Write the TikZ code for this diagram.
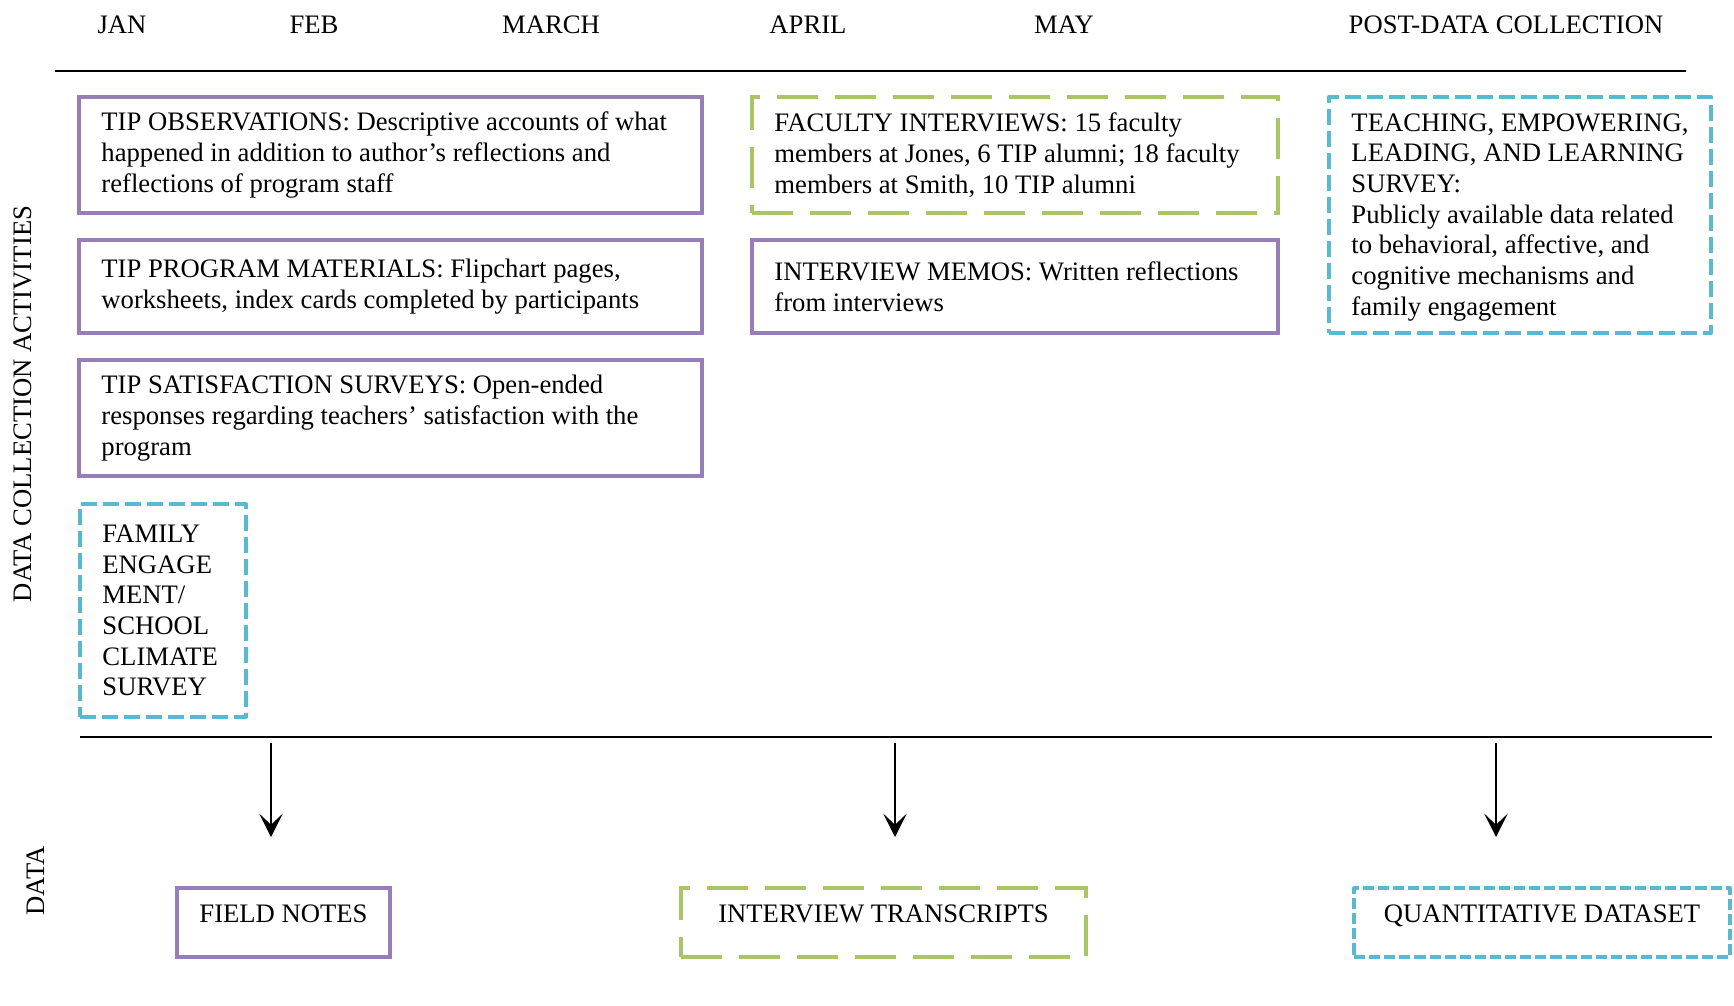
\documentclass[tikz,border=0pt]{standalone}
\usepackage{fontspec}
\setmainfont{Liberation Serif}
\usetikzlibrary{arrows.meta,calc}
\definecolor{purp}{RGB}{152,126,182}
\definecolor{grn}{RGB}{170,196,104}
\definecolor{cyn}{RGB}{88,185,208}
\begin{document}
\begin{tikzpicture}[x=0.45pt,y=-0.45pt,
  every node/.style={font=\fontsize{12}{13.8}\selectfont},
  box/.style={rectangle, inner sep=0pt, outer sep=0pt, anchor=north west, line width=1.8pt},
  pbox/.style={box, draw=purp},
  gbox/.style={box, draw=grn, dash pattern=on 18.5pt off 7.6pt},
  cbox/.style={box, draw=cyn, dash pattern=on 7.2pt off 2.7pt, line join=round},
  qbox/.style={box, draw=cyn, dash pattern=on 5pt off 1.8pt, line join=round},
  txt/.style={inner sep=0pt, align=left, anchor=west},
  ctxt/.style={inner sep=0pt, anchor=base},
  month/.style={inner sep=0pt, anchor=base},
  rule/.style={line width=1.2pt},
  arr/.style={line width=0.9pt, -{Stealth[length=10.5pt,width=10.5pt,inset=5pt]}}
]
\useasboundingbox (0,0) rectangle (1734,1005);

% month labels
\node[month] (jan) at (122,33) {JAN};
\node[month] (feb) at (314,33) {FEB};
\node[month] (mar) at (551,33) {MARCH};
\node[month] (apr) at (808,33) {APRIL};
\node[month] (may) at (1064,33) {MAY};
\node[month] (post) at (1506,33) {POST-DATA COLLECTION};

% side labels
\node[month, rotate=90] (lab1) at (32,404) {DATA COLLECTION ACTIVITIES};
\node[month, rotate=90] (lab2) at (45,881) {DATA};

% rules
\coordinate (tl1) at (55,71);
\coordinate (tl2) at (1686,71);
\draw[rule] (tl1) -- (tl2);
\coordinate (bl1) at (80,737);
\coordinate (bl2) at (1712,737);
\draw[rule] (bl1) -- (bl2);

% boxes
\node[pbox, minimum width=280.35pt, minimum height=52.2pt] (obs) at (79,97) {};
\node[txt] (obs-t) at ([xshift=9.9pt]obs.west) {TIP OBSERVATIONS: Descriptive accounts of what\\happened in addition to author’s reflections and\\reflections of program staff};

\node[pbox, minimum width=280.35pt, minimum height=41.85pt] (mat) at (79,240) {};
\node[txt] (mat-t) at ([xshift=9.9pt]mat.west) {TIP PROGRAM MATERIALS: Flipchart pages,\\worksheets, index cards completed by participants};

\node[pbox, minimum width=280.35pt, minimum height=52.2pt] (sat) at (79,360) {};
\node[txt] (sat-t) at ([xshift=9.9pt]sat.west) {TIP SATISFACTION SURVEYS: Open-ended\\responses regarding teachers’ satisfaction with the\\program};

\node[cbox, minimum width=74.7pt, minimum height=95.85pt] (fam) at (80,504) {};
\node[txt] (fam-t) at ([xshift=9.9pt]fam.west) {FAMILY\\ENGAGE\\MENT/\\SCHOOL\\CLIMATE\\SURVEY};

\node[gbox, minimum width=236.7pt, minimum height=52.2pt] (fac) at (752,97) {};
\node[txt] (fac-t) at ([xshift=9.9pt]fac.west) {FACULTY INTERVIEWS: 15 faculty\\members at Jones, 6 TIP alumni; 18 faculty\\members at Smith, 10 TIP alumni};

\node[pbox, minimum width=236.7pt, minimum height=41.85pt] (memo) at (752,240) {};
\node[txt] (memo-t) at ([xshift=9.9pt]memo.west) {INTERVIEW MEMOS: Written reflections\\from interviews};

\node[cbox, minimum width=171.9pt, minimum height=106.2pt] (tell) at (1329,97) {};
\node[txt] (tell-t) at ([xshift=9.9pt,yshift=-1pt]tell.west) {TEACHING, EMPOWERING,\\LEADING, AND LEARNING\\SURVEY:\\Publicly available data related\\to behavioral, affective, and\\cognitive mechanisms and\\family engagement};

% data boxes
\node[pbox, minimum width=95.85pt, minimum height=31.05pt] (fn) at (177,888) {};
\node[ctxt] (fn-t) at (fn.center) {FIELD NOTES};
\node[gbox, minimum width=182.25pt, minimum height=31.05pt] (it) at (681,888) {};
\node[ctxt] (it-t) at (it.center) {INTERVIEW TRANSCRIPTS};
\node[qbox, minimum width=169.2pt, minimum height=31.05pt] (qd) at (1354,888) {};
\node[ctxt] (qd-t) at (qd.center) {QUANTITATIVE DATASET};

% arrows
\coordinate (a1s) at (271,743); \coordinate (a1e) at (271,837);
\coordinate (a2s) at (895,743); \coordinate (a2e) at (895,837);
\coordinate (a3s) at (1496,743); \coordinate (a3e) at (1496,837);
\draw[arr] (a1s) -- (a1e);
\draw[arr] (a2s) -- (a2e);
\draw[arr] (a3s) -- (a3e);
\end{tikzpicture}
\end{document}
